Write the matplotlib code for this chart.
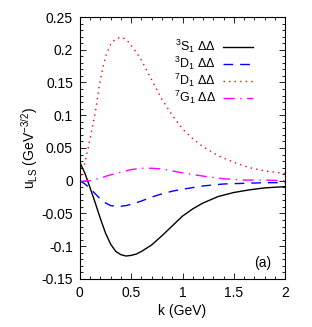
import matplotlib
matplotlib.use("Agg")
import matplotlib.pyplot as plt
from matplotlib.ticker import MultipleLocator

plt.rcParams["font.family"] = ["Liberation Sans", "DejaVu Sans"]
plt.rcParams["mathtext.fontset"] = "custom"
plt.rcParams["mathtext.rm"] = "Liberation Sans"
plt.rcParams["mathtext.it"] = "Liberation Sans:italic"

# ──────────────────────────────
# Data
# ──────────────────────────────
k_3s1 = [0, 0.05, 0.1, 0.15, 0.2, 0.25, 0.3, 0.35, 0.4, 0.45, 0.5, 0.55, 0.6,
         0.7, 0.8, 0.9, 1.0, 1.1, 1.2, 1.35, 1.5, 1.65, 1.8, 2.0]
u_3s1 = [0.028, 0.011, -0.011, -0.034, -0.058, -0.080, -0.097, -0.108, -0.113,
         -0.115, -0.114, -0.112, -0.108, -0.098, -0.084, -0.069, -0.054, -0.043,
         -0.034, -0.024, -0.018, -0.014, -0.011, -0.009]

k_3d1 = [0, 0.05, 0.1, 0.15, 0.2, 0.25, 0.3, 0.35, 0.4, 0.45, 0.5, 0.6, 0.7,
         0.8, 0.9, 1.0, 1.2, 1.4, 1.6, 1.8, 2.0]
u_3d1 = [0.0, -0.005, -0.012, -0.020, -0.028, -0.034, -0.038, -0.039, -0.039,
         -0.038, -0.036, -0.031, -0.025, -0.020, -0.016, -0.013, -0.008, -0.005,
         -0.004, -0.003, -0.003]

k_7d1 = [0, 0.05, 0.1, 0.15, 0.2, 0.25, 0.3, 0.35, 0.4, 0.45, 0.5, 0.55, 0.6,
         0.7, 0.8, 0.9, 1.0, 1.1, 1.2, 1.35, 1.5, 1.65, 1.8, 2.0]
u_7d1 = [0.0, 0.028, 0.064, 0.104, 0.155, 0.190, 0.208, 0.217, 0.219, 0.216,
         0.207, 0.196, 0.184, 0.154, 0.124, 0.100, 0.079, 0.064, 0.052, 0.038,
         0.028, 0.020, 0.015, 0.011]

k_7g1 = [0, 0.1, 0.2, 0.3, 0.4, 0.5, 0.6, 0.7, 0.8, 0.9, 1.0, 1.2, 1.4, 1.6,
         1.8, 2.0]
u_7g1 = [-0.001, 0.0, 0.004, 0.009, 0.013, 0.017, 0.019, 0.019, 0.018, 0.015,
         0.012, 0.007, 0.003, 0.001, 0.001, 0.0]

x_ticks = [0, 0.5, 1, 1.5, 2]
x_ticklabels = ["0", "0.5", "1", "1.5", "2"]
y_ticks = [-0.15, -0.1, -0.05, 0, 0.05, 0.1, 0.15, 0.2, 0.25]
y_ticklabels = ["-0.15", "-0.1", "-0.05", "0", "0.05", "0.1", "0.15", "0.2", "0.25"]

labels = [r"$^{3}$S$_{1}$ ΔΔ", r"$^{3}$D$_{1}$ ΔΔ",
          r"$^{7}$D$_{1}$ ΔΔ", r"$^{7}$G$_{1}$ ΔΔ"]

# ──────────────────────────────
# Plot
# ──────────────────────────────
fig = plt.figure(figsize=(3.12, 3.27), dpi=100)
ax = fig.add_axes([0.256, 0.147, 0.658, 0.801])

ax.plot(k_3s1, u_3s1, color="black", lw=1.0, label=labels[0])
ax.plot(k_3d1, u_3d1, color="#0000ff", lw=1.0, dashes=(7, 5), label=labels[1])
ax.plot(k_7d1, u_7d1, color="#ff0000", lw=1.0, dashes=(1, 3), label=labels[2])
ax.plot(k_7g1, u_7g1, color="#ff00ff", lw=1.0, dashes=(8, 4, 1, 4), label=labels[3])

ax.set_xlim(0, 2)
ax.set_ylim(-0.15, 0.25)
ax.set_xticks(x_ticks)
ax.set_xticklabels(x_ticklabels)
ax.set_yticks(y_ticks)
ax.set_yticklabels(y_ticklabels)
ax.xaxis.set_minor_locator(MultipleLocator(0.1))
ax.yaxis.set_minor_locator(MultipleLocator(0.01))
ax.tick_params(which="both", direction="in", top=True, right=True,
               labelsize=10, width=0.6, pad=5)
ax.tick_params(which="major", length=4)
ax.tick_params(which="minor", length=2)
for s in ax.spines.values():
    s.set_linewidth(0.8)

ax.set_xlabel("k (GeV)", fontsize=10, labelpad=3)
ax.set_ylabel(r"u$_{\mathrm{LS}}$ (GeV$^{-3/2}$)", fontsize=10, labelpad=1)

ax.legend(loc="upper right", bbox_to_anchor=(0.87, 0.94), frameon=False,
          markerfirst=False, fontsize=9, handlelength=2.4, handletextpad=0.6,
          labelspacing=-0.02, borderaxespad=0)

ax.text(0.89, 0.06, "(a)", transform=ax.transAxes, ha="center", va="center",
        fontsize=10)

fig.savefig("out.png", dpi=100)
